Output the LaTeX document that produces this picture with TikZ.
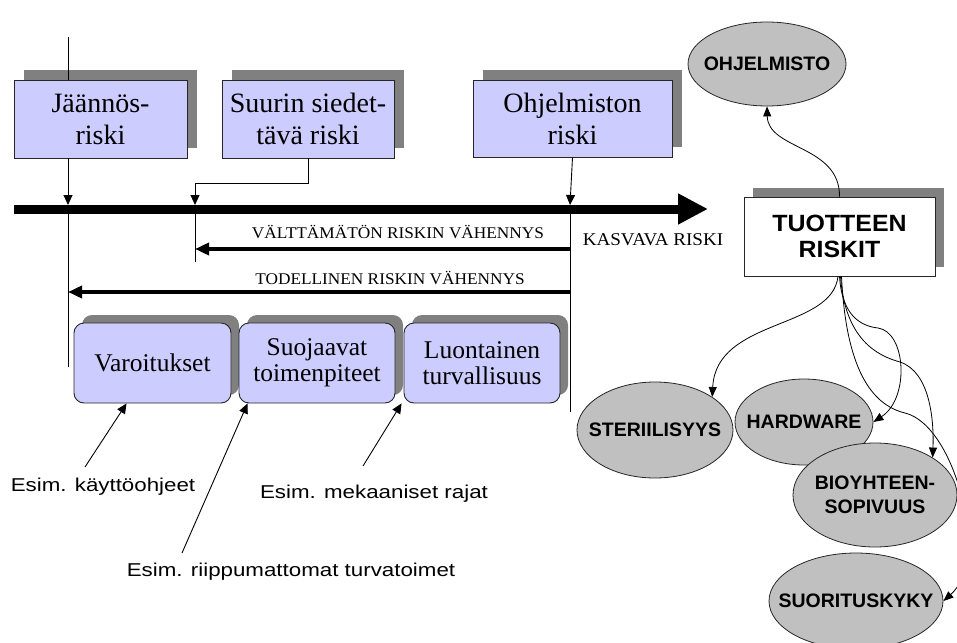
\documentclass[tikz,border=0pt]{standalone}
\usepackage{fontspec}
\setmainfont{Liberation Serif}
\newfontfamily\arialS[FakeStretch=1.2]{Liberation Sans}
\newfontfamily\arialE{Liberation Sans}
\newfontfamily\arialT[FakeStretch=1.06]{Liberation Sans}
\newfontfamily\serifW[FakeStretch=1.06]{Liberation Serif}
\usetikzlibrary{shapes.geometric,arrows.meta,shadows}
\definecolor{boxfill}{HTML}{CCCCFF}
\definecolor{shadowgray}{HTML}{808080}
\definecolor{ellgray}{HTML}{C0C0C0}
\begin{document}
\begin{tikzpicture}[x=1pt,y=-1pt,
  thinline/.style={line width=0.9pt},
  thinarrow/.style={line width=0.9pt,-{Triangle[length=10pt,width=9pt]}},
  thickarrow/.style={line width=3.5pt,-{Triangle[length=14pt,width=12pt]}},
  curvearrow/.style={line width=0.8pt,-{Triangle[length=10pt,width=8pt]}},
  topbox/.style={draw=black!85,line width=0.9pt,fill=boxfill,inner sep=0pt,align=center,
    font=\fontsize{28}{32}\selectfont,
    drop shadow={shadow xshift=10pt,shadow yshift=10pt,fill=shadowgray,opacity=1}},
  lowbox/.style={draw=black!85,line width=0.9pt,fill=boxfill,inner sep=0pt,align=center,
    rounded corners=10pt,minimum width=156pt,minimum height=80pt,
    font=\fontsize{25.5}{26}\selectfont,
    drop shadow={shadow xshift=8pt,shadow yshift=8pt,fill=shadowgray,opacity=1}},
  ell/.style={ellipse,draw=black!85,line width=0.8pt,fill=ellgray,inner sep=0pt},
  elltext/.style={inner sep=0pt,align=center,font=\arialE\bfseries\fontsize{19.5}{24}\selectfont},
  note/.style={font=\arialS\fontsize{18.6}{22}\selectfont,inner sep=0pt},
  small/.style={font=\serifW\fontsize{16.3}{18}\selectfont,inner sep=0pt}
]
\useasboundingbox (0,0) rectangle (957,642);

% coordinates on the axis
\coordinate (top1) at (68,37);
\coordinate (p1) at (68,205);
\coordinate (p2) at (195,205);
\coordinate (p3) at (570,205);
\coordinate (e1) at (68,367);
\coordinate (e2) at (195,262);
\coordinate (e3) at (570,412);
\coordinate (k1) at (195,183);
\coordinate (bl) at (14,209);
\coordinate (br) at (708,209);
\coordinate (a1s) at (570,249);
\coordinate (a1e) at (195,249);
\coordinate (a2s) at (570,292);
\coordinate (a2e) at (68,292);
\coordinate (c1) at (85,467);
\coordinate (c2) at (182,553);
\coordinate (c3) at (363,466);

% vertical lines
\draw[thinline] (p1) -- (e1);
\draw[thinline] (p2) -- (e2);
\draw[thinline] (p3) -- (e3);

% top boxes
\node[topbox,minimum width=173pt,minimum height=78pt] (jr) at (100.5,119) {Jäännös-\\riski};
\node[topbox,minimum width=172pt,minimum height=78pt] (ss) at (308,119) {Suurin siedet-\\tävä riski};
\node[topbox,minimum width=199pt,minimum height=77pt] (oh) at (572.5,118.5) {Ohjelmiston\\riski};

\draw[thinline] (top1) -- (jr.north -| top1);
\draw[thinarrow] (jr.south -| p1) -- (p1);
\draw[thinarrow] (ss.south) |- (k1) -- (p2);
\draw[thinarrow] (oh.south) -- (p3);

% main axis
\draw[line width=9pt,-{Triangle[length=30pt,width=29pt]}] (bl) -- (br);

% reduction arrows
\draw[thickarrow] (a1s) -- (a1e);
\draw[thickarrow] (a2s) -- (a2e);
\node[small] (vt) at (398,232) {VÄLTTÄMÄTÖN RISKIN VÄHENNYS};
\node[small] (td) at (390,278) {TODELLINEN RISKIN VÄHENNYS};
\node[font=\serifW\fontsize{18}{20}\selectfont,inner sep=0pt] (kr) at (653,240) {KASVAVA RISKI};

% lower boxes
\node[lowbox,minimum width=157pt] (va) at (152.5,363) {Varoitukset};
\node[lowbox] (su) at (317,363) {Suojaavat\\toimenpiteet};
\node[lowbox] (lu) at (482,363) {Luontainen\\turvallisuus};

% notes
\node[note] (t1) at (103,487) {Esim. käyttöohjeet};
\node[note] (t2) at (374,494) {Esim. mekaaniset rajat};
\node[note] (t3) at (291,572) {Esim. riippumattomat turvatoimet};
\draw[thinarrow] (c1) -- ([xshift=53pt]va.south west);
\draw[thinarrow] (c2) -- ([xshift=9pt]su.south west);
\draw[thinarrow] (c3) -- ([xshift=-2pt]lu.south west);

% product risks
\node[draw=black!85,line width=0.9pt,fill=white,minimum width=191pt,minimum height=79pt,inner sep=0pt,
  align=center,font=\arialT\bfseries\fontsize{23.5}{26}\selectfont,
  drop shadow={shadow xshift=9pt,shadow yshift=9pt,fill=shadowgray,opacity=1}] (tr) at (839.5,236.5) {TUOTTEEN\\RISKIT};

\node[ell,minimum width=158pt,minimum height=84pt] (oj) at (767,64) {};
\node[elltext] at (oj) {OHJELMISTO};
\node[ell,minimum width=156pt,minimum height=96pt] (st) at (655,430) {};
\node[elltext] at (st) {STERIILISYYS};
\node[ell,minimum width=138pt,minimum height=86pt] (hw) at (804,422) {};
\node[elltext] at (hw) {HARDWARE};
\node[ell,minimum width=164pt,minimum height=104pt] (bi) at (875,495) {};
\node[elltext] at (bi) {BIOYHTEEN-\\SOPIVUUS};
\node[ell,minimum width=174pt,minimum height=96pt] (sk) at (856,601) {};
\node[elltext] at (sk) {SUORITUSKYKY};

\draw[curvearrow] (tr.north) .. controls (840,145) and (768,150) .. (oj.south);
\draw[curvearrow] ([xshift=-1.5pt]tr.south) .. controls (832,330) and (716,318) .. (st.30);
\draw[curvearrow] (tr.south) .. controls (842,315) and (860,326) .. (878,328)
  .. controls (906,332) and (910,398) .. (hw.east);
\draw[curvearrow] ([xshift=1pt]tr.south) .. controls (845,340) and (878,356) .. (900,362)
  .. controls (930,372) and (934,420) .. (bi.33);
\draw[curvearrow] ([xshift=2pt]tr.south) .. controls (846,370) and (872,405) .. (905,413)
  .. controls (955,425) and (990,560) .. (sk.east);
\end{tikzpicture}
\end{document}
